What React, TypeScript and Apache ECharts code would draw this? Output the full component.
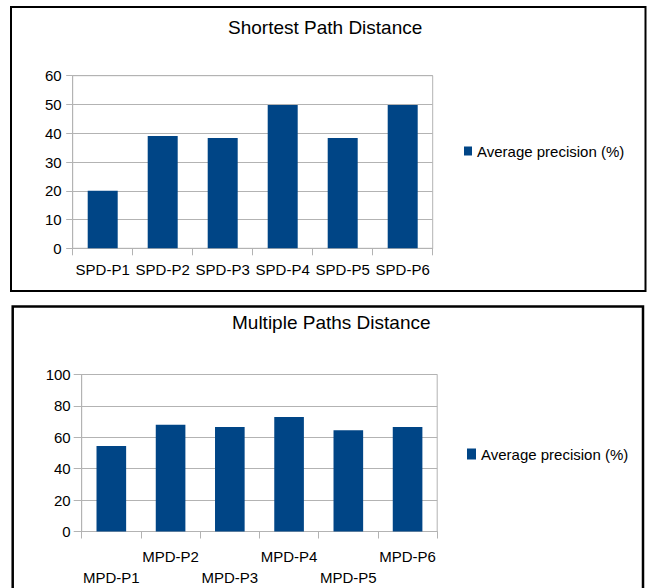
import React, { useEffect, useRef } from "react";
import * as echarts from "echarts";

const spdCategories = ["SPD-P1", "SPD-P2", "SPD-P3", "SPD-P4", "SPD-P5", "SPD-P6"];
const spdValues = [20, 39, 38.3, 49.8, 38.3, 49.8];
const mpdCategories = ["MPD-P1", "MPD-P2", "MPD-P3", "MPD-P4", "MPD-P5", "MPD-P6"];
const mpdValues = [54.5, 68, 66.5, 73, 64.5, 66.5];
const seriesName = "Average precision (%)";
const spdTitle = "Shortest Path Distance";
const mpdTitle = "Multiple Paths Distance";

const FONT = "Liberation Sans, Arial, sans-serif";
const GRID = "#b3b3b3";
const BAR = "#004586";

export default function App() {
  const ref = useRef<HTMLDivElement>(null);
  useEffect(() => {
    if (!ref.current) return;
    const chart = echarts.init(ref.current, null, { renderer: "svg" });
    const yAxisBase = (max: number, interval: number, tickLen: number) => ({
      type: "value",
      min: 0,
      max,
      interval,
      axisLine: { show: true, lineStyle: { color: GRID, width: 1 } },
      axisTick: { show: true, length: tickLen, lineStyle: { color: GRID } },
      splitLine: { show: true, lineStyle: { color: GRID, width: 1 } },
      axisLabel: { color: "#000", fontSize: 15, fontFamily: FONT, margin: 11 },
    });
    chart.setOption({
      animation: false,
      backgroundColor: "#fff",
      textStyle: { fontFamily: FONT },
      title: [
        {
          text: spdTitle,
          left: 228,
          top: 16,
          padding: 0,
          textStyle: { fontSize: 19, fontWeight: "normal", color: "#000", fontFamily: FONT, lineHeight: 22 },
        },
        {
          text: mpdTitle,
          left: 232,
          top: 311,
          padding: 0,
          textStyle: { fontSize: 19, fontWeight: "normal", color: "#000", fontFamily: FONT, lineHeight: 22 },
        },
      ],
      legend: [
        {
          data: [seriesName],
          left: 464,
          top: 143,
          padding: 0,
          itemWidth: 8,
          itemHeight: 9,
          icon: "rect",
          textStyle: { fontSize: 15, color: "#000", fontFamily: FONT, lineHeight: 16 },
        },
        {
          data: [seriesName],
          left: 467,
          top: 446,
          padding: 0,
          itemWidth: 9,
          itemHeight: 11,
          icon: "rect",
          textStyle: { fontSize: 15, color: "#000", fontFamily: FONT, lineHeight: 16 },
        },
      ],
      grid: [
        { left: 72.7, top: 75.7, width: 360, height: 172.6, show: true, borderColor: GRID, borderWidth: 1, backgroundColor: "transparent" },
        { left: 81.7, top: 374.5, width: 355.5, height: 157.2, show: true, borderColor: GRID, borderWidth: 1, backgroundColor: "transparent" },
      ],
      xAxis: [
        {
          type: "category",
          gridIndex: 0,
          data: spdCategories,
          axisLine: { show: true, lineStyle: { color: GRID } },
          axisTick: { show: true, length: 7, lineStyle: { color: GRID } },
          axisLabel: { interval: 0, color: "#000", fontSize: 15, fontFamily: FONT, margin: 11, lineHeight: 21 },
        },
        {
          type: "category",
          gridIndex: 1,
          data: mpdCategories,
          axisLine: { show: true, lineStyle: { color: GRID } },
          axisTick: { show: true, length: 7, lineStyle: { color: GRID } },
          axisLabel: {
            interval: 0,
            color: "#000",
            fontSize: 15,
            fontFamily: FONT,
            margin: 14.5,
            lineHeight: 21,
            formatter: (v: string, i: number) => (i % 2 === 0 ? "\n" + v : v),
          },
        },
      ],
      yAxis: [
        { ...yAxisBase(60, 10, 6.5), gridIndex: 0 },
        { ...yAxisBase(100, 20, 8), gridIndex: 1 },
      ],
      series: [
        {
          name: seriesName,
          type: "bar",
          xAxisIndex: 0,
          yAxisIndex: 0,
          data: spdValues,
          barWidth: "50%",
          itemStyle: { color: BAR },
        },
        {
          name: seriesName,
          type: "bar",
          xAxisIndex: 1,
          yAxisIndex: 1,
          data: mpdValues,
          barWidth: "50%",
          itemStyle: { color: BAR },
        },
      ],
      graphic: [
        {
          type: "rect",
          silent: true,
          shape: { x: 11, y: 7, width: 634.5, height: 284 },
          style: { fill: "none", stroke: "#000", lineWidth: 2 },
        },
        {
          type: "rect",
          silent: true,
          shape: { x: 12.7, y: 306.5, width: 630.3, height: 320 },
          style: { fill: "none", stroke: "#000", lineWidth: 2.5 },
        },
      ],
    });
    return () => chart.dispose();
  }, []);
  return (
    <div
      ref={ref}
      style={{ position: "absolute", left: 0, top: 0, width: 647, height: 588 }}
    />
  );
}
